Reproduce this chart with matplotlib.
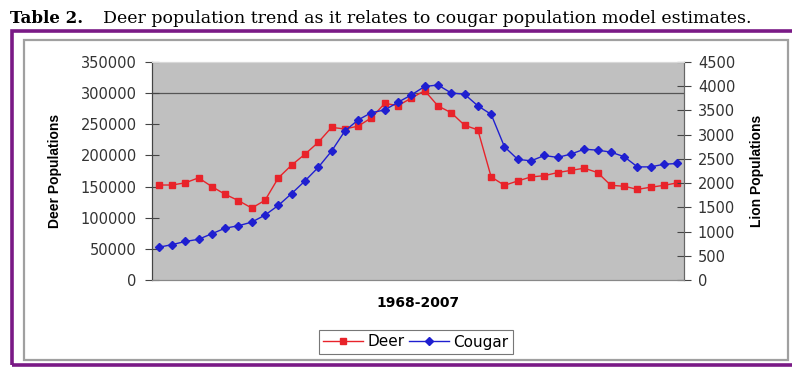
import matplotlib.pyplot as plt
import matplotlib.patches as patches
from matplotlib.lines import Line2D
import numpy as np

# Data (1968-2007, 40 yearly points)
years = list(range(1968, 2008))
deer = [152500, 152500, 156000, 164000, 150000, 137500, 127500, 115500, 128000, 164000,
        184500, 202000, 221000, 245000, 242500, 247000, 260500, 283500, 280000, 292000,
        304000, 279500, 268500, 248500, 241000, 165500, 152000, 159000, 165500, 167500,
        172500, 176000, 179500, 172500, 152000, 150500, 145500, 149000, 152000, 156000]
cougar = [675, 730, 795, 840, 955, 1070, 1120, 1195, 1340, 1540,
          1785, 2045, 2325, 2660, 3075, 3305, 3455, 3510, 3670, 3820,
          3995, 4025, 3860, 3835, 3595, 3420, 2750, 2490, 2460, 2570,
          2530, 2600, 2700, 2680, 2640, 2545, 2335, 2335, 2390, 2405]
left_ticks = [0, 50000, 100000, 150000, 200000, 250000, 300000, 350000]
right_ticks = [0, 500, 1000, 1500, 2000, 2500, 3000, 3500, 4000, 4500]

plt.rcParams['font.family'] = ['DejaVu Sans']

fig = plt.figure(figsize=(7.92, 3.67), dpi=100)
W, H = 792, 367

# title line
fig.text(10 / W, 1 - 23 / H, 'Table 2.', family='DejaVu Serif', fontweight='bold',
         fontsize=12, va='baseline', ha='left')
fig.text(103 / W, 1 - 23 / H, 'Deer population trend as it relates to cougar population model estimates.',
         family='DejaVu Serif', fontsize=12.5, va='baseline', ha='left')

# purple frame and gray chart border (behind the axes)
fig.patches.append(patches.Rectangle((12 / W, 1 - 365 / H), 800 / W, 334 / H,
                                     transform=fig.transFigure, fill=False, zorder=-2,
                                     edgecolor='#7a1a86', linewidth=2.6))
fig.patches.append(patches.Rectangle((24 / W, 1 - 360 / H), 764 / W, 320 / H,
                                     transform=fig.transFigure, facecolor='white', zorder=-1,
                                     edgecolor='#a0a0a0', linewidth=1.6))

ax = fig.add_axes([152 / W, 1 - 280 / H, 532 / W, 218 / H])
ax.set_facecolor('#c0c0c0')
x = np.arange(len(years)) + 0.5
ax.axhline(300000, color='#555555', linewidth=0.9, zorder=1)
ax.plot(x, deer, color='#e8232a', marker='s', markersize=4.5, linewidth=1.0, zorder=3)
ax.set_xlim(0, len(years))
ax.set_ylim(0, 350000)
ax.set_yticks(left_ticks)
ax.set_yticklabels([str(t) for t in left_ticks])
ax.set_xticks([])
ax.tick_params(axis='y', direction='inout', length=10, width=0.8, colors='#444444',
               labelsize=10.5, labelcolor='#333333', pad=6)
ax.set_ylabel('Deer Populations', family='Liberation Sans', fontweight='bold', fontsize=10,
              va='center')
ax.yaxis.set_label_coords((55 - 152) / 532, 0.5)
ax.set_xlabel('1968-2007', fontweight='bold', fontsize=10, va='center')
ax.xaxis.set_label_coords(0.5, (280 - 303) / 218)

ax2 = ax.twinx()
ax2.plot(x, cougar, color='#1f1fd0', marker='D', markersize=4, linewidth=1.0, zorder=3)
ax2.set_ylim(0, 4500)
ax2.set_yticks(right_ticks)
ax2.set_yticklabels([str(t) for t in right_ticks])
ax2.tick_params(axis='y', direction='inout', length=10, width=0.8, colors='#444444',
                labelsize=10.5, labelcolor='#333333', pad=5)
ax2.set_ylabel('Lion Populations', family='Liberation Sans', fontweight='bold', fontsize=10,
               va='center')
ax2.yaxis.set_label_coords((757 - 152) / 532, 0.5)

for a in (ax, ax2):
    a.spines['top'].set_color('#d8d8d8')
    a.spines['bottom'].set_color('#888888')
    a.spines['left'].set_color('#444444')
    a.spines['right'].set_color('#666666')

handles = [Line2D([], [], color='#e8232a', marker='s', markersize=4.5, linewidth=1.0),
           Line2D([], [], color='#1f1fd0', marker='D', markersize=4, linewidth=1.0)]
leg = fig.legend(handles, ['Deer', 'Cougar'], loc='center', ncol=2,
                 bbox_to_anchor=(416 / W, 1 - 342 / H), fontsize=11, frameon=True,
                 fancybox=False, edgecolor='#555555', handlelength=2.6,
                 columnspacing=0.3, handletextpad=0.3, borderpad=0.3)
leg.get_frame().set_linewidth(0.8)

plt.savefig('out.png', dpi=100)
